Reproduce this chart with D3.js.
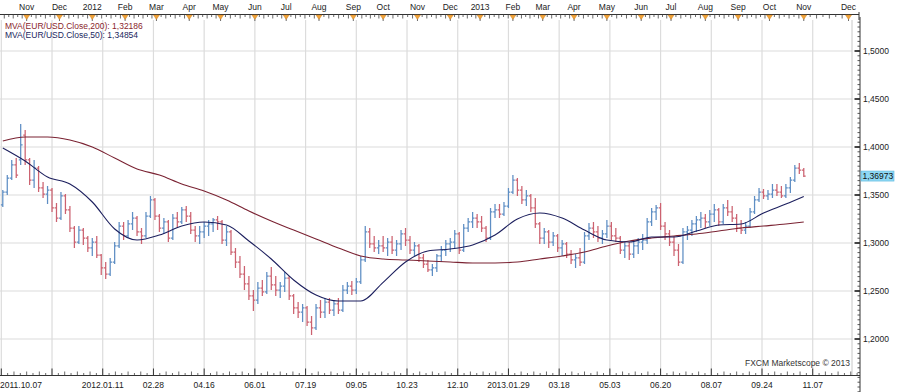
<!DOCTYPE html>
<html><head><meta charset="utf-8">
<script src="https://cdn.jsdelivr.net/npm/d3@7"></script>
<style>
html,body{margin:0;padding:0;background:#fff;}
svg{display:block;}
text{font-family:"Liberation Sans",Arial,sans-serif;font-size:8.5px;fill:#222;}
</style>
</head><body>
<svg id="c" width="900" height="392"></svg>
<script>
// ---- data: 3-trading-day OHLC bars of EUR/USD ----
const opens = [1.3396,1.3531,1.3677,1.3813,1.3865,1.4125,1.3865,1.3656,1.3781,1.3573,1.3510,1.3552,1.3365,1.3260,1.3490,1.3344,1.3156,1.3010,1.3135,1.3052,
1.2948,1.3010,1.2875,1.2740,1.2677,1.2802,1.2969,1.3177,1.3073,1.3198,1.3260,1.3115,1.3073,1.3281,1.3448,1.3281,1.3156,1.3219,1.3052,1.3260,
1.3219,1.3344,1.3281,1.3135,1.3073,1.3115,1.3177,1.3198,1.3240,1.3219,1.3031,1.3115,1.2906,1.2802,1.2677,1.2573,1.2448,1.2406,1.2531,1.2490,
1.2656,1.2563,1.2510,1.2552,1.2635,1.2448,1.2323,1.2281,1.2323,1.2177,1.2115,1.2323,1.2281,1.2385,1.2302,1.2365,1.2302,1.2510,1.2552,1.2510,
1.2594,1.2823,1.3115,1.2990,1.2948,1.2969,1.2948,1.3010,1.2927,1.2990,1.3094,1.3031,1.2927,1.2969,1.2844,1.2781,1.2719,1.2740,1.2865,1.2927,
1.2990,1.3010,1.3094,1.2927,1.3156,1.3219,1.3260,1.3219,1.3156,1.3052,1.3323,1.3344,1.3302,1.3385,1.3531,1.3656,1.3552,1.3448,1.3490,1.3365,
1.3198,1.3052,1.3115,1.3010,1.3073,1.2948,1.2990,1.2885,1.2823,1.2844,1.2802,1.3073,1.3156,1.3115,1.3052,1.3094,1.3177,1.3073,1.3052,1.2927,
1.2969,1.2885,1.2969,1.3010,1.3031,1.3219,1.3323,1.3365,1.3177,1.3094,1.3010,1.2927,1.2802,1.3115,1.3135,1.3198,1.3240,1.3260,1.3219,1.3302,
1.3344,1.3219,1.3365,1.3323,1.3260,1.3156,1.3135,1.3177,1.3323,1.3448,1.3531,1.3490,1.3510,1.3552,1.3531,1.3490,1.3573,1.3656,1.3781,1.3760];
const highs = [1.3552,1.3708,1.3865,1.3885,1.4240,1.4177,1.3885,1.3865,1.3802,1.3635,1.3594,1.3573,1.3417,1.3531,1.3510,1.3385,1.3177,1.3177,1.3156,1.3073,
1.3052,1.3073,1.2885,1.2802,1.2844,1.3010,1.3219,1.3219,1.3240,1.3323,1.3281,1.3156,1.3323,1.3490,1.3469,1.3302,1.3260,1.3240,1.3302,1.3323,
1.3375,1.3385,1.3323,1.3177,1.3177,1.3219,1.3240,1.3260,1.3281,1.3240,1.3177,1.3135,1.2948,1.2865,1.2760,1.2656,1.2510,1.2594,1.2615,1.2698,
1.2750,1.2656,1.2594,1.2698,1.2656,1.2469,1.2385,1.2365,1.2344,1.2240,1.2365,1.2406,1.2427,1.2427,1.2406,1.2427,1.2563,1.2594,1.2604,1.2635,
1.2865,1.3177,1.3156,1.3073,1.3031,1.3073,1.3052,1.3073,1.3031,1.3135,1.3156,1.3073,1.3010,1.2990,1.2885,1.2823,1.2781,1.2885,1.2969,1.3031,
1.3052,1.3135,1.3115,1.3198,1.3260,1.3323,1.3302,1.3281,1.3177,1.3365,1.3406,1.3406,1.3427,1.3573,1.3708,1.3677,1.3594,1.3552,1.3510,1.3469,
1.3219,1.3156,1.3135,1.3115,1.3094,1.3031,1.3010,1.2927,1.2885,1.2948,1.3115,1.3208,1.3219,1.3177,1.3135,1.3240,1.3219,1.3156,1.3073,1.3010,
1.3010,1.3010,1.3052,1.3094,1.3260,1.3365,1.3396,1.3417,1.3219,1.3135,1.3073,1.2990,1.3156,1.3177,1.3240,1.3281,1.3323,1.3302,1.3344,1.3406,
1.3365,1.3406,1.3448,1.3385,1.3302,1.3240,1.3219,1.3365,1.3490,1.3573,1.3563,1.3552,1.3615,1.3615,1.3594,1.3615,1.3688,1.3813,1.3833,1.3781];
const lows = [1.3375,1.3500,1.3656,1.3677,1.3813,1.3813,1.3604,1.3573,1.3531,1.3469,1.3406,1.3323,1.3219,1.3240,1.3302,1.3115,1.2948,1.2990,1.2979,1.2906,
1.2865,1.2844,1.2667,1.2625,1.2656,1.2781,1.2948,1.3031,1.3052,1.3135,1.3073,1.2990,1.3052,1.3260,1.3240,1.3115,1.3094,1.3010,1.3031,1.3156,
1.3198,1.3219,1.3094,1.3010,1.2990,1.3052,1.3073,1.3115,1.3135,1.2990,1.2969,1.2875,1.2740,1.2635,1.2510,1.2406,1.2292,1.2365,1.2448,1.2469,
1.2510,1.2448,1.2427,1.2490,1.2406,1.2260,1.2219,1.2177,1.2135,1.2042,1.2094,1.2219,1.2219,1.2260,1.2240,1.2260,1.2281,1.2469,1.2458,1.2469,
1.2573,1.2802,1.2948,1.2906,1.2885,1.2906,1.2865,1.2885,1.2865,1.2927,1.2969,1.2885,1.2865,1.2802,1.2740,1.2698,1.2656,1.2698,1.2802,1.2865,
1.2906,1.2948,1.2885,1.2906,1.3115,1.3156,1.3156,1.3115,1.3010,1.3031,1.3260,1.3260,1.3281,1.3365,1.3510,1.3490,1.3406,1.3385,1.3323,1.3156,
1.2990,1.2990,1.2948,1.2969,1.2906,1.2865,1.2844,1.2781,1.2740,1.2760,1.2781,1.3031,1.3052,1.3010,1.2990,1.3052,1.3031,1.3010,1.2885,1.2844,
1.2823,1.2844,1.2885,1.2927,1.2990,1.3177,1.3240,1.3135,1.3031,1.2969,1.2865,1.2760,1.2781,1.3031,1.3073,1.3115,1.3156,1.3156,1.3177,1.3219,
1.3177,1.3198,1.3281,1.3219,1.3115,1.3094,1.3094,1.3156,1.3302,1.3427,1.3458,1.3448,1.3469,1.3490,1.3469,1.3469,1.3521,1.3635,1.3719,1.3688];
const closes = [1.3531,1.3677,1.3813,1.3708,1.4021,1.3865,1.3656,1.3781,1.3573,1.3510,1.3552,1.3365,1.3260,1.3490,1.3344,1.3156,1.3010,1.3135,1.3052,1.2948,
1.3010,1.2875,1.2740,1.2677,1.2802,1.2969,1.3177,1.3073,1.3198,1.3260,1.3115,1.3073,1.3281,1.3448,1.3281,1.3156,1.3219,1.3052,1.3260,1.3219,
1.3344,1.3281,1.3135,1.3073,1.3115,1.3177,1.3198,1.3240,1.3219,1.3031,1.3115,1.2906,1.2802,1.2677,1.2573,1.2448,1.2406,1.2531,1.2490,1.2656,
1.2563,1.2510,1.2552,1.2635,1.2448,1.2323,1.2281,1.2323,1.2177,1.2115,1.2323,1.2281,1.2385,1.2302,1.2365,1.2302,1.2510,1.2552,1.2510,1.2594,
1.2823,1.3115,1.2990,1.2948,1.2969,1.2948,1.3010,1.2927,1.2990,1.3094,1.3031,1.2927,1.2969,1.2844,1.2781,1.2719,1.2740,1.2865,1.2927,1.2990,
1.3010,1.3094,1.2927,1.3156,1.3219,1.3260,1.3219,1.3156,1.3052,1.3323,1.3344,1.3302,1.3385,1.3531,1.3656,1.3552,1.3448,1.3490,1.3365,1.3198,
1.3052,1.3115,1.3010,1.3073,1.2948,1.2990,1.2885,1.2823,1.2844,1.2802,1.3073,1.3156,1.3115,1.3052,1.3094,1.3177,1.3073,1.3052,1.2927,1.2969,
1.2885,1.2969,1.3010,1.3031,1.3219,1.3323,1.3365,1.3177,1.3094,1.3010,1.2927,1.2802,1.3115,1.3135,1.3198,1.3240,1.3260,1.3219,1.3302,1.3344,
1.3219,1.3365,1.3323,1.3260,1.3156,1.3135,1.3177,1.3323,1.3448,1.3531,1.3490,1.3510,1.3552,1.3531,1.3490,1.3573,1.3656,1.3781,1.3760,1.36973];

// moving averages, sampled at these bar numbers
const maBars = [0,5,10,15,20,25,30,35,40,45,50,55,60,65,70,75,80,85,90,95,100,105,110,115,120,125,130,135,140,145,150,155,160,165,170,175,179];
const ma200 = [1.4063,1.4104,1.4104,1.4073,1.4000,1.3885,1.3771,1.3708,1.3615,1.3542,1.3448,1.3333,1.3229,1.3135,1.3042,1.2948,1.2865,1.2833,1.2823,1.2813,
1.2802,1.2792,1.2792,1.2802,1.2833,1.2865,1.2906,1.2969,1.3021,1.3052,1.3073,1.3094,1.3125,1.3156,1.3177,1.3198,1.32186];
const ma50 = [1.3990,1.3854,1.3688,1.3615,1.3427,1.3146,1.3031,1.3083,1.3177,1.3219,1.3188,1.3021,1.2833,1.2615,1.2458,1.2396,1.2396,1.2590,1.2802,1.2917,
1.2938,1.2979,1.3083,1.3250,1.3313,1.3260,1.3135,1.3031,1.3010,1.3063,1.3063,1.3125,1.3188,1.3198,1.3313,1.3406,1.34854];

// axes: top month markers (trading-day index), bottom date grid, price ticks
const monthDays = [17,39,61,83,104,126,147,170,191,213,236,256,279,301,321,343,363,384,406,429,449,472,494,515,538,568];
const monthLabels = ["Nov","Dec","2012","Feb","Mar","Apr","May","Jun","Jul","Aug","Sep","Oct","Nov","Dec","2013","Feb","Mar","Apr","May","Jun","Jul","Aug","Sep","Oct","Nov","Dec"];
const gridDays = [0,34,68,102,136,170,204,238,272,306,340,374,408,442,476,510,544];
const dateLabels = ["2011.10.07","","2012.01.11","02.28","04.16","06.01","07.19","09.05","10.23","12.10","2013.01.29","03.18","05.03","06.20","08.07","09.24","11.07"];
const priceTicks = [1.20,1.25,1.30,1.35,1.40,1.45,1.50];
const legendNames = ["MVA(EUR/USD.Close,200)","MVA(EUR/USD.Close,50)"];

(function(){
// ---- drawing ----
const BAR_SPAN = 3;
const dayOf = k => k*BAR_SPAN + 1;
const svg = d3.select("#c");
const P = {left:0, right:852, top:20, bottom:375, axisX:860};
const x = d3.scaleLinear().domain([0,571]).range([1.3,853]);
const y = d3.scaleLinear().domain([1.2,1.5]).range([339,51]);
const fmt = v => d3.format(".4f")(v).replace(".",",");
const fmt5 = v => d3.format(".5f")(v).replace(".",",");

const grid = svg.append("g").attr("stroke","#dcdcdc").attr("stroke-width",1.2);
grid.selectAll(".v").data(gridDays).join("line").attr("class","v")
  .attr("x1",d=>x(d)).attr("x2",d=>x(d)).attr("y1",P.top).attr("y2",P.bottom);
grid.selectAll(".h").data(priceTicks).join("line").attr("class","h")
  .attr("x1",P.left).attr("x2",P.right).attr("y1",d=>y(d)).attr("y2",d=>y(d));
svg.append("line").attr("x1",P.right).attr("x2",P.right).attr("y1",P.top).attr("y2",P.bottom)
  .attr("stroke","#c8c8c8").attr("stroke-width",1);

// bars
const bars = opens.map((o,k)=>({k,o,h:highs[k],l:lows[k],c:closes[k]}));
svg.append("g").selectAll("path").data(bars).join("path")
  .attr("d",d=>{const cx=x(dayOf(d.k));
    return `M${cx},${y(d.h)}V${y(d.l)}M${cx-1.9},${y(d.o)}H${cx}M${cx},${y(d.c)}H${cx+1.9}`;})
  .attr("fill","none").attr("stroke-width",1.25)
  .attr("stroke",d=>d.c>=d.o?"#5e8ec4":"#cc6270");

// MAs
const line = arr => d3.line().x((v,i)=>x(dayOf(maBars[i]))).y(v=>y(v)).curve(d3.curveMonotoneX)(arr);
svg.append("path").attr("d",line(ma200)).attr("fill","none").attr("stroke","#7a2232").attr("stroke-width",1.1);
svg.append("path").attr("d",line(ma50)).attr("fill","none").attr("stroke","#1c1f5e").attr("stroke-width",1.1);

// legend
const legColors = ["#8a1e2c","#1c1f5e"];
const legVals = [ma200[ma200.length-1], ma50[ma50.length-1]];
legendNames.forEach((n,i)=>{
  svg.append("text").attr("x",5).attr("y",29+i*9).style("fill",legColors[i]).text(`${n}: ${fmt5(legVals[i])}`);
});

// top axis
const topAx = svg.append("g");
topAx.append("line").attr("x1",0).attr("x2",859).attr("y1",14.5).attr("y2",14.5).attr("stroke","#333").attr("stroke-width",1);
topAx.append("line").attr("x1",859).attr("x2",859).attr("y1",12).attr("y2",20).attr("stroke","#333");
const minorTop = [];
for(let i=0;i<monthDays.length;i++){
  const a = i===0 ? monthDays[0]-21 : monthDays[i-1], b = monthDays[i];
  for(let j=1;j<7;j++) minorTop.push(a+(b-a)*j/7);
}
topAx.selectAll(".mt").data(minorTop.filter(d=>x(d)>0)).join("line").attr("class","mt")
  .attr("x1",d=>x(d)).attr("x2",d=>x(d)).attr("y1",14.5).attr("y2",(d,i)=>i%2?17:18.5)
  .attr("stroke","#444").attr("stroke-width",0.8);
topAx.selectAll(".mk").data(monthDays).join("line").attr("class","mk")
  .attr("x1",d=>x(d)).attr("x2",d=>x(d)).attr("y1",14.5).attr("y2",21).attr("stroke","#444").attr("stroke-width",0.8);
topAx.selectAll(".tri").data(monthDays).join("path").attr("class","tri")
  .attr("d",d=>{const cx=x(d);return `M${cx-3},15L${cx+3},15L${cx},19.5Z`;})
  .attr("fill","#f2a43a").attr("stroke","#c77a18").attr("stroke-width",0.4);
topAx.selectAll("text").data(monthDays).join("text")
  .attr("x",d=>x(d)).attr("y",10).attr("text-anchor","middle").text((d,i)=>monthLabels[i]);

// bottom axis
const bot = svg.append("g");
bot.append("line").attr("x1",0).attr("x2",860).attr("y1",375.5).attr("y2",375.5).attr("stroke","#333");
const minorBot = [];
for(let i=0;i<gridDays.length;i++){
  for(let j=1;j<8;j++) minorBot.push({d:gridDays[i]+34*j/8, big:j%2===0});
}
bot.selectAll(".bm").data(minorBot.filter(m=>x(m.d)<859)).join("line").attr("class","bm")
  .attr("x1",m=>x(m.d)).attr("x2",m=>x(m.d)).attr("y1",375).attr("y2",m=>m.big?371.5:373)
  .attr("stroke","#444").attr("stroke-width",0.8);
bot.selectAll(".bM").data(gridDays).join("line").attr("class","bM")
  .attr("x1",d=>x(d)).attr("x2",d=>x(d)).attr("y1",375).attr("y2",368.5)
  .attr("stroke","#333").attr("stroke-width",1);
bot.selectAll("text").data(gridDays).join("text")
  .attr("x",(d,i)=>i===0?0:x(d)).attr("y",388)
  .attr("text-anchor",(d,i)=>i===0?"start":"middle").text((d,i)=>dateLabels[i]);

// right axis
const ra = svg.append("g");
ra.append("line").attr("x1",P.axisX).attr("x2",P.axisX).attr("y1",17).attr("y2",392).attr("stroke","#333");
const minorP = d3.range(1.145,1.531,0.005);
ra.selectAll(".pm").data(minorP).join("line").attr("class","pm")
  .attr("x1",P.axisX-2.5).attr("x2",P.axisX).attr("y1",d=>y(d)).attr("y2",d=>y(d))
  .attr("stroke","#444").attr("stroke-width",0.9);
ra.selectAll(".pM").data(priceTicks).join("line").attr("class","pM")
  .attr("x1",P.axisX-5.5).attr("x2",P.axisX).attr("y1",d=>y(d)).attr("y2",d=>y(d))
  .attr("stroke","#333").attr("stroke-width",1.8);
ra.selectAll("text").data(priceTicks).join("text")
  .attr("x",863).attr("y",d=>y(d)+3).text(d=>fmt(d));

// current price label
const last = closes[closes.length-1];
svg.append("rect").attr("x",861).attr("y",y(last)-5).attr("width",33).attr("height",10)
  .attr("fill","#8ed8f4").attr("stroke","#5bb6dc").attr("stroke-width",0.6);
svg.append("text").attr("x",862.5).attr("y",y(last)+3).style("fill","#111").text(fmt5(last));

// copyright
svg.append("text").attr("x",850).attr("y",366).attr("text-anchor","end").style("fill","#333")
  .text("FXCM Marketscope © 2013");
})();
</script>
</body></html>
